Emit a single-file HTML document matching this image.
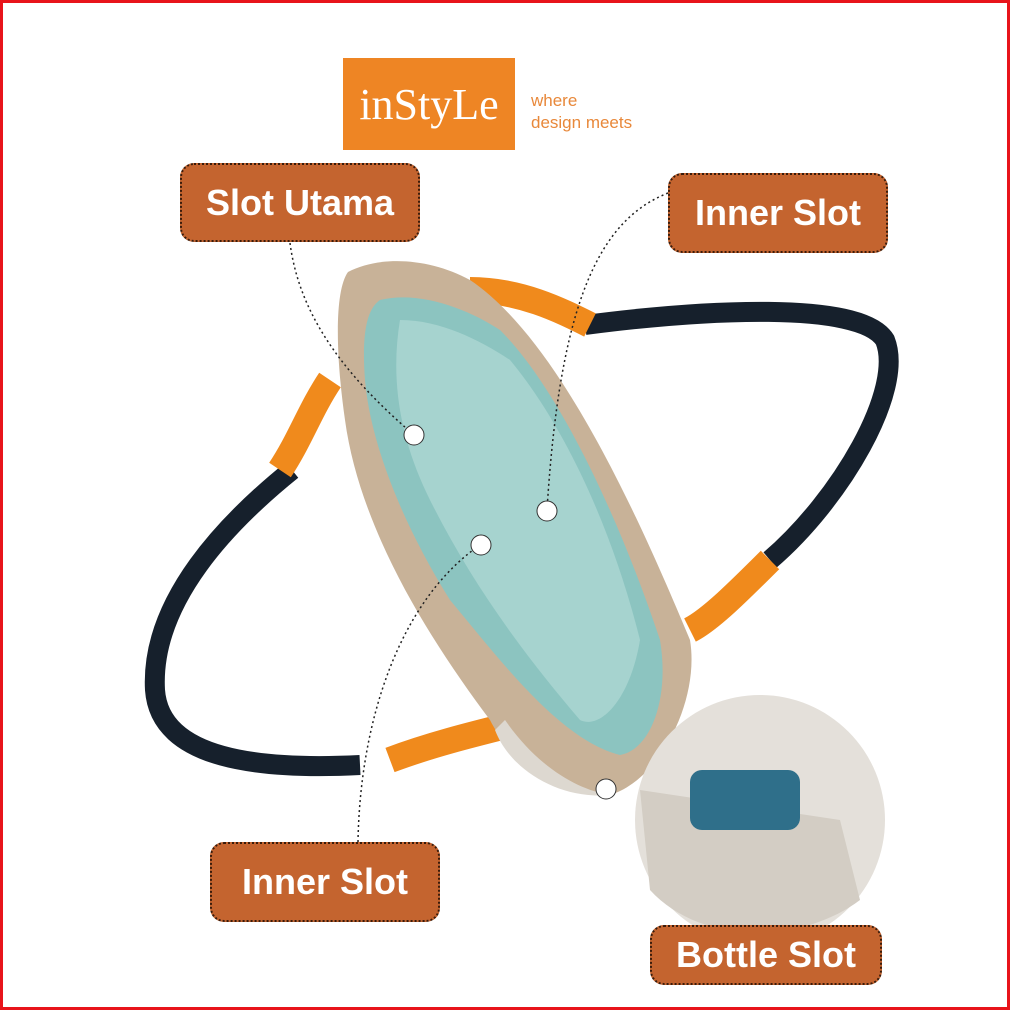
<!DOCTYPE html>
<html><head><style>
body{margin:0;width:1010px;height:1010px;overflow:hidden;background:#fff;font-family:"Liberation Sans",sans-serif}
.frame{position:absolute;left:0;top:0;width:1004px;height:1004px;border:3px solid #e8141b}
.lbl{position:absolute;background:#c4642f;border:2px dotted #3a1c0c;border-radius:14px;color:#fff;font-weight:bold;font-size:36px;display:flex;align-items:center;justify-content:center;box-sizing:border-box}
</style></head><body>
<svg width="1010" height="1010" style="position:absolute;left:0;top:0">
<path d="M292,470 C230,520 150,600 155,690 C160,760 260,770 360,765" fill="none" stroke="#16202c" stroke-width="20"/>
<path d="M585,325 C700,310 860,300 885,340 C905,390 840,500 770,560" fill="none" stroke="#16202c" stroke-width="20"/>
<path d="M470,290 C520,290 560,310 590,325" stroke="#f08a1c" stroke-width="26" fill="none"/>
<path d="M330,380 C310,410 300,440 280,470" stroke="#f08a1c" stroke-width="26" fill="none"/>
<path d="M770,560 C740,590 710,620 690,630" stroke="#f08a1c" stroke-width="26" fill="none"/>
<path d="M390,760 C430,745 470,735 510,725" stroke="#f08a1c" stroke-width="26" fill="none"/>
<path d="M348,272 C380,255 430,258 470,280 C560,340 640,520 690,640 C700,700 660,780 610,795 C560,800 510,760 490,720 C430,640 360,530 345,420 C335,350 335,290 348,272Z" fill="#c8b298"/>
<path d="M380,300 C420,290 470,310 500,330 C560,390 620,520 660,640 C670,700 650,750 620,755 C560,740 500,660 450,600 C400,520 370,440 365,380 C362,340 365,310 380,300Z" fill="#8cc4c0"/>
<path d="M400,320 C440,320 480,340 510,360 C560,420 610,520 640,640 C630,700 600,730 580,720 C520,650 470,580 430,500 C400,440 390,380 400,320Z" fill="#a6d3cf"/>
<path d="M505,720 C540,770 580,790 610,795 C560,800 510,770 495,730Z" fill="#ddd8d0"/>
<circle cx="760" cy="820" r="125" fill="#e4e0da"/>
<path d="M640,790 L840,820 L860,900 C800,945 700,945 650,890Z" fill="#d3cdc4"/>
<rect x="690" y="770" width="110" height="60" rx="12" fill="#2f6f8a"/>
<g stroke="#222" stroke-width="1.5" stroke-dasharray="2,3" fill="none">
<path d="M290,243 C300,320 350,380 414,435"/>
<path d="M668,193 C600,220 560,300 547,510"/>
<path d="M358,842 C360,720 400,600 480,545"/>
</g>
<g fill="#fff" stroke="#333" stroke-width="1">
<circle cx="414" cy="435" r="10"/><circle cx="547" cy="511" r="10"/><circle cx="481" cy="545" r="10"/><circle cx="606" cy="789" r="10"/>
</g>
</svg>
<div style="position:absolute;left:343px;top:58px;width:172px;height:92px;background:#ee8524;color:#fff;font-size:44px;display:flex;align-items:center;justify-content:center;font-family:'Liberation Serif',serif">inStyLe</div>
<div style="position:absolute;left:531px;top:90px;color:#e8883a;font-size:17px;line-height:22px">where<br>design meets</div>
<div class="lbl" style="left:180px;top:163px;width:240px;height:79px">Slot Utama</div>
<div class="lbl" style="left:668px;top:173px;width:220px;height:80px">Inner Slot</div>
<div class="lbl" style="left:210px;top:842px;width:230px;height:80px">Inner Slot</div>
<div class="lbl" style="left:650px;top:925px;width:232px;height:60px">Bottle Slot</div>
<div class="frame"></div>
</body></html>
